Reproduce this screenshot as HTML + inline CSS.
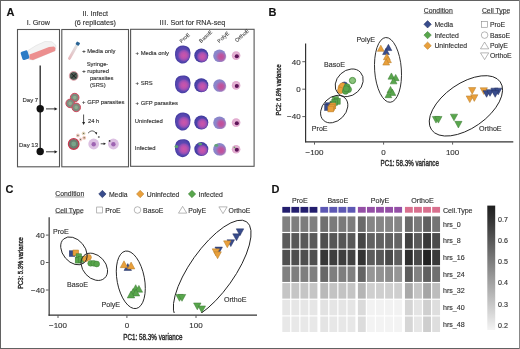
<!DOCTYPE html>
<html><head><meta charset="utf-8"><style>
html,body{margin:0;padding:0;background:#fff;}
body{width:520px;height:349px;overflow:hidden;font-family:"Liberation Sans", sans-serif;}
svg{display:block;font-family:"Liberation Sans", sans-serif;will-change:transform;}
text{stroke:#333;stroke-width:0.14px;}
</style></head><body>
<svg width="520" height="349" viewBox="0 0 520 349"><rect x="0" y="0" width="520" height="349" fill="#fff"/><line x1="0.5" y1="0" x2="0.5" y2="349" stroke="#626262" stroke-width="1"/><line x1="0" y1="0.5" x2="520" y2="0.5" stroke="#626262" stroke-width="1"/><line x1="0" y1="348.5" x2="520" y2="348.5" stroke="#626262" stroke-width="1"/><line x1="519.5" y1="0" x2="519.5" y2="349" stroke="#888" stroke-width="1"/><text x="6.5" y="16" font-size="11" fill="#111" text-anchor="start" font-weight="bold" >A</text><text x="268.5" y="16" font-size="11" fill="#111" text-anchor="start" font-weight="bold" >B</text><text x="5.5" y="193" font-size="11" fill="#111" text-anchor="start" font-weight="bold" >C</text><text x="271.5" y="193" font-size="11" fill="#111" text-anchor="start" font-weight="bold" >D</text><text x="38.3" y="25" font-size="7.2" fill="#333" text-anchor="middle" font-weight="normal" >I. Grow</text><text x="95.2" y="15.6" font-size="7.2" fill="#333" text-anchor="middle" font-weight="normal" >II. Infect</text><text x="95.2" y="24.6" font-size="7.2" fill="#333" text-anchor="middle" font-weight="normal" >(6 replicates)</text><text x="159.5" y="24.8" font-size="7.2" fill="#333" text-anchor="start" font-weight="normal" ><tspan letter-spacing="0.35">III</tspan>. Sort for RNA-seq</text><rect x="17.5" y="29.5" width="42" height="137.3" fill="none" stroke="#555" stroke-width="1.1"/><rect x="61.8" y="29.5" width="66.7" height="137.3" fill="none" stroke="#555" stroke-width="1.1"/><rect x="130.6" y="29.3" width="123.5" height="137" fill="none" stroke="#555" stroke-width="1.1"/><polygon points="28,50.5 36,45.5 45,41.5 52,41.8 56,45.5 55.5,50.5 33,60 28,59" fill="#f3f3f3" stroke="#ddd" stroke-width="0.6"/><polygon points="29.5,54.5 40,50.5 49,47 54,46.5 55.5,48 55,51 33,60 29.5,59.2" fill="#ec8f8f"/><g transform="translate(25 55.2) rotate(-18)"><rect x="-3.6" y="-4.3" width="7.2" height="8.6" rx="1.6" fill="#2c7cc6"/></g><line x1="40.2" y1="65.5" x2="40.2" y2="151.5" stroke="#333" stroke-width="1.4"/><circle cx="40.2" cy="108.7" r="3.7" fill="#111"/><circle cx="40.2" cy="151.5" r="3.7" fill="#111"/><line x1="46" y1="108.9" x2="55.5" y2="108.9" stroke="#222" stroke-width="0.9"/><polygon points="57.5,108.9 54.5,107.30000000000001 54.5,110.5" fill="#222"/><line x1="46" y1="151.8" x2="55.5" y2="151.8" stroke="#222" stroke-width="0.9"/><polygon points="57.5,151.8 54.5,150.20000000000002 54.5,153.4" fill="#222"/><text x="22.5" y="101.8" font-size="6" fill="#333" text-anchor="start" font-weight="normal" >Day 7</text><text x="19" y="146.8" font-size="6" fill="#333" text-anchor="start" font-weight="normal" >Day 13</text><defs><linearGradient id="tubeg" x1="0" y1="0" x2="0" y2="1"><stop offset="0" stop-color="#dfe4e4"/><stop offset="1" stop-color="#e8b8bc"/></linearGradient><linearGradient id="cbar" x1="0" y1="0" x2="0" y2="1"><stop offset="0" stop-color="#1e1e1e"/><stop offset="0.1" stop-color="#303030"/><stop offset="0.5" stop-color="#888"/><stop offset="1" stop-color="#f4f4f4"/></linearGradient></defs><g transform="translate(73.7 50.9) rotate(29.5)"><rect x="-1.45" y="-7" width="2.9" height="17" rx="1.4" fill="url(#tubeg)"/><rect x="-1.85" y="-10" width="3.7" height="3.3" rx="0.7" fill="#2a6494"/></g><text x="82.3" y="53.3" font-size="5.8" fill="#333" text-anchor="start" font-weight="normal" >+ Media only</text><circle cx="73.7" cy="75.9" r="4.4" fill="#4d5a52" stroke="#e6a3ab" stroke-width="0.9"/><path d="M71.2 73.4 L76.2 78.4 M76.2 73.4 L71.2 78.4" stroke="#111" stroke-width="0.8"/><text x="97.5" y="65.7" font-size="5.8" fill="#333" text-anchor="middle" font-weight="normal" >Syringe-</text><text x="82.3" y="73.3" font-size="5.8" fill="#333" text-anchor="start" font-weight="normal" >+ ruptured</text><text x="89.9" y="80.3" font-size="5.8" fill="#333" text-anchor="start" font-weight="normal" >parasites</text><text x="89.9" y="87.3" font-size="5.8" fill="#333" text-anchor="start" font-weight="normal" >(SRS)</text><circle cx="74.7" cy="97.6" r="4.3" fill="#7e8b7e" stroke="#d4475e" stroke-width="1"/><circle cx="74.7" cy="97.6" r="1.8" fill="#8fae8f"/><circle cx="70.2" cy="103.4" r="4.3" fill="#7e8b7e" stroke="#d4475e" stroke-width="1"/><circle cx="70.2" cy="103.4" r="1.8" fill="#8fae8f"/><circle cx="76.2" cy="107.4" r="4.3" fill="#7e8b7e" stroke="#d4475e" stroke-width="1"/><circle cx="76.2" cy="107.4" r="1.8" fill="#8fae8f"/><text x="82.1" y="104.2" font-size="5.85" fill="#333" text-anchor="start" font-weight="normal" >+ GFP parasites</text><line x1="83.6" y1="114.5" x2="83.6" y2="122.5" stroke="#222" stroke-width="0.8"/><polygon points="83.6,125 82.1,122 85.1,122" fill="#222"/><text x="88" y="122.5" font-size="5.8" fill="#333" text-anchor="start" font-weight="normal" >24 h</text><circle cx="73.7" cy="144" r="5.3" fill="#6c7d70" stroke="#c8384f" stroke-width="1.2"/><circle cx="73.7" cy="144" r="2.4" fill="#79a58a"/><circle cx="77.9" cy="135.5" r="1.9" fill="#f0c8c0"/><circle cx="77.9" cy="135.5" r="0.7" fill="#6a7a5a"/><circle cx="83.6" cy="133.4" r="1.9" fill="#e8d8c0"/><circle cx="83.6" cy="133.4" r="0.7" fill="#6a7a5a"/><circle cx="84.2" cy="137.8" r="1.9" fill="#f0c0b0"/><circle cx="84.2" cy="137.8" r="0.7" fill="#6a7a5a"/><circle cx="80.5" cy="139.5" r="1.9" fill="#f3d0d0"/><circle cx="80.5" cy="139.5" r="0.7" fill="#6a7a5a"/><path d="M88 133.2 Q92 128.5 96 133" fill="none" stroke="#222" stroke-width="0.7"/><polygon points="96.7,134.8 94.8,132.6 97.2,132.2" fill="#222"/><circle cx="98.8" cy="137" r="1" fill="#777"/><circle cx="93.7" cy="144" r="5.4" fill="#dcc0e2"/><circle cx="93.7" cy="144.3" r="2.2" fill="#9e64b2"/><circle cx="113.4" cy="144" r="5.4" fill="#dcc0e2"/><circle cx="113.4" cy="144.3" r="2.2" fill="#9e64b2"/><line x1="100.7" y1="143.8" x2="104.3" y2="143.8" stroke="#222" stroke-width="0.8"/><polygon points="106,143.8 103.6,142.5 103.6,145.1" fill="#222"/><circle cx="109.6" cy="140.9" r="0.9" fill="#333"/><text x="135.6" y="55" font-size="5.85" fill="#333" text-anchor="start" font-weight="normal" >+ Media only</text><text x="135.6" y="85" font-size="5.85" fill="#333" text-anchor="start" font-weight="normal" >+ SRS</text><text x="135.6" y="104.6" font-size="5.85" fill="#333" text-anchor="start" font-weight="normal" >+ GFP parasites</text><text x="134.8" y="122.6" font-size="5.85" fill="#333" text-anchor="start" font-weight="normal" >Uninfected</text><text x="134.8" y="150" font-size="5.85" fill="#333" text-anchor="start" font-weight="normal" >Infected</text><text transform="translate(181.6 43.2) rotate(-42)" font-size="5.3" fill="#3a3a3a" text-anchor="start" font-weight="normal" style="stroke-width:0.06px">ProE</text><text transform="translate(201 43.2) rotate(-42)" font-size="5.3" fill="#3a3a3a" text-anchor="start" font-weight="normal" style="stroke-width:0.06px">BasoE</text><text transform="translate(219.3 43.2) rotate(-42)" font-size="5.3" fill="#3a3a3a" text-anchor="start" font-weight="normal" style="stroke-width:0.06px">PolyE</text><text transform="translate(237 42.6) rotate(-42)" font-size="5.3" fill="#3a3a3a" text-anchor="start" font-weight="normal" style="stroke-width:0.06px">OrthoE</text><defs><radialGradient id="gnuc" cx="0.5" cy="0.5" r="0.5"><stop offset="0" stop-color="#cc56a8"/><stop offset="0.45" stop-color="#b852b0"/><stop offset="0.75" stop-color="#9850b6" stop-opacity="0.85"/><stop offset="1" stop-color="#7048b0" stop-opacity="0"/></radialGradient><radialGradient id="gnuc2" cx="0.5" cy="0.5" r="0.5"><stop offset="0" stop-color="#c44e98"/><stop offset="0.45" stop-color="#bc58a2"/><stop offset="0.8" stop-color="#a86cb4" stop-opacity="0.6"/><stop offset="1" stop-color="#9a80c4" stop-opacity="0"/></radialGradient><radialGradient id="gout" cx="0.5" cy="0.5" r="0.5"><stop offset="0" stop-color="#6a4cb4"/><stop offset="0.8" stop-color="#5646b0"/><stop offset="1" stop-color="#443ca0"/></radialGradient><radialGradient id="goutb" cx="0.5" cy="0.5" r="0.5"><stop offset="0" stop-color="#5a48b0"/><stop offset="0.8" stop-color="#4a42a8"/><stop offset="1" stop-color="#3a3698"/></radialGradient><radialGradient id="gortho" cx="0.5" cy="0.5" r="0.5"><stop offset="0" stop-color="#ecc0dc"/><stop offset="1" stop-color="#dfa6cc"/></radialGradient></defs><path d="M175.15 51.70 Q175.70 48.20 178.30 46.75 Q180.90 45.30 184.75 45.70 Q188.60 46.10 189.85 49.55 Q191.10 53.00 190.10 56.75 Q189.10 60.50 186.30 62.40 Q183.50 64.30 180.10 63.00 Q176.70 61.70 175.65 58.45 Q174.60 55.20 175.15 51.70 Z" fill="url(#gout)"/><circle cx="183.9" cy="55.4" r="6.6" fill="url(#gnuc)"/><circle cx="201.3" cy="55.5" r="7.0" fill="url(#goutb)"/><circle cx="202.4" cy="56.7" r="6.0" fill="url(#gnuc)"/><circle cx="219.5" cy="55.7" r="6.3" fill="#8a86ca"/><circle cx="221.1" cy="56.800000000000004" r="5.7" fill="url(#gnuc2)"/><circle cx="236.1" cy="55.6" r="4.3" fill="url(#gortho)"/><circle cx="236.79999999999998" cy="56.2" r="2.064" fill="#5e1458"/><path d="M175.15 81.50 Q175.70 78.00 178.30 76.55 Q180.90 75.10 184.75 75.50 Q188.60 75.90 189.85 79.35 Q191.10 82.80 190.10 86.55 Q189.10 90.30 186.30 92.20 Q183.50 94.10 180.10 92.80 Q176.70 91.50 175.65 88.25 Q174.60 85.00 175.15 81.50 Z" fill="url(#gout)"/><circle cx="183.9" cy="85.2" r="6.6" fill="url(#gnuc)"/><circle cx="201.3" cy="85.30000000000001" r="7.0" fill="url(#goutb)"/><circle cx="202.4" cy="86.50000000000001" r="6.0" fill="url(#gnuc)"/><circle cx="219.5" cy="85.5" r="6.3" fill="#8a86ca"/><circle cx="221.1" cy="86.6" r="5.7" fill="url(#gnuc2)"/><circle cx="236.1" cy="85.4" r="4.3" fill="url(#gortho)"/><circle cx="236.79999999999998" cy="86.0" r="2.064" fill="#5e1458"/><path d="M175.15 118.70 Q175.70 115.20 178.30 113.75 Q180.90 112.30 184.75 112.70 Q188.60 113.10 189.85 116.55 Q191.10 120.00 190.10 123.75 Q189.10 127.50 186.30 129.40 Q183.50 131.30 180.10 130.00 Q176.70 128.70 175.65 125.45 Q174.60 122.20 175.15 118.70 Z" fill="url(#gout)"/><circle cx="183.9" cy="122.39999999999999" r="6.6" fill="url(#gnuc)"/><circle cx="201.3" cy="122.5" r="7.0" fill="url(#goutb)"/><circle cx="202.4" cy="123.7" r="6.0" fill="url(#gnuc)"/><circle cx="219.5" cy="122.69999999999999" r="6.3" fill="#8a86ca"/><circle cx="221.1" cy="123.79999999999998" r="5.7" fill="url(#gnuc2)"/><circle cx="236.1" cy="122.6" r="4.3" fill="url(#gortho)"/><circle cx="236.79999999999998" cy="123.19999999999999" r="2.064" fill="#5e1458"/><path d="M175.15 145.30 Q175.70 141.80 178.30 140.35 Q180.90 138.90 184.75 139.30 Q188.60 139.70 189.85 143.15 Q191.10 146.60 190.10 150.35 Q189.10 154.10 186.30 156.00 Q183.50 157.90 180.10 156.60 Q176.70 155.30 175.65 152.05 Q174.60 148.80 175.15 145.30 Z" fill="url(#gout)"/><circle cx="183.9" cy="149.0" r="6.6" fill="url(#gnuc)"/><ellipse cx="176.4" cy="146.6" rx="1.9" ry="1.6" fill="#5aa86a" opacity="0.9"/><circle cx="201.3" cy="149.1" r="7.0" fill="url(#goutb)"/><circle cx="202.4" cy="150.29999999999998" r="6.0" fill="url(#gnuc)"/><ellipse cx="200.10000000000002" cy="144.1" rx="2.0" ry="1.3" fill="#5aa86a" opacity="0.9"/><circle cx="219.5" cy="149.29999999999998" r="6.3" fill="#8a86ca"/><circle cx="221.1" cy="150.39999999999998" r="5.7" fill="url(#gnuc2)"/><ellipse cx="216.3" cy="145.39999999999998" rx="2.0" ry="1.3" fill="#5aa86a" opacity="0.85"/><circle cx="236.1" cy="149.2" r="4.3" fill="url(#gortho)"/><circle cx="236.79999999999998" cy="149.79999999999998" r="2.064" fill="#5e1458"/><circle cx="234.5" cy="147.39999999999998" r="0.9" fill="#6ba06a"/><line x1="305.6" y1="43.4" x2="305.6" y2="142.2" stroke="#333" stroke-width="1.2"/><line x1="305" y1="141.9" x2="513.3" y2="141.9" stroke="#333" stroke-width="1.2"/><line x1="302.3" y1="61.7" x2="305" y2="61.7" stroke="#333" stroke-width="0.8"/><text x="300.7" y="64.5" font-size="8.0" fill="#333" text-anchor="end" font-weight="normal" >40</text><line x1="302.3" y1="89.2" x2="305" y2="89.2" stroke="#333" stroke-width="0.8"/><text x="300.7" y="92.0" font-size="8.0" fill="#333" text-anchor="end" font-weight="normal" >0</text><line x1="302.3" y1="116.6" x2="305" y2="116.6" stroke="#333" stroke-width="0.8"/><text x="300.7" y="119.39999999999999" font-size="8.0" fill="#333" text-anchor="end" font-weight="normal" >−40</text><line x1="314.5" y1="142.3" x2="314.5" y2="144.6" stroke="#333" stroke-width="0.8"/><text x="314.5" y="154.7" font-size="8.0" fill="#333" text-anchor="middle" font-weight="normal" >−100</text><line x1="383.6" y1="142.3" x2="383.6" y2="144.6" stroke="#333" stroke-width="0.8"/><text x="383.6" y="154.7" font-size="8.0" fill="#333" text-anchor="middle" font-weight="normal" >0</text><line x1="452.6" y1="142.3" x2="452.6" y2="144.6" stroke="#333" stroke-width="0.8"/><text x="452.6" y="154.7" font-size="8.0" fill="#333" text-anchor="middle" font-weight="normal" >100</text><text transform="translate(409.75 166.4) scale(0.741 1)" font-size="8.4" fill="#2a2a2a" text-anchor="middle" font-weight="normal" style="stroke-width:0.4px;stroke:#2a2a2a">PC1: 58.3% variance</text><text transform="translate(281.3 89.9) rotate(-90) scale(0.77 1)" font-size="7.5" fill="#2a2a2a" text-anchor="middle" font-weight="normal" style="stroke-width:0.4px;stroke:#2a2a2a">PC2: 6.8% variance</text><rect x="332.6" y="96.6" width="5.8" height="5.8" fill="#58a64c" stroke="#3d7a34" stroke-width="0.5"/><rect x="334.40000000000003" y="98.39999999999999" width="5.8" height="5.8" fill="#58a64c" stroke="#3d7a34" stroke-width="0.5"/><rect x="331.8" y="99.5" width="5.8" height="5.8" fill="#58a64c" stroke="#3d7a34" stroke-width="0.5"/><rect x="330.0" y="101.1" width="5.8" height="5.8" fill="#58a64c" stroke="#3d7a34" stroke-width="0.5"/><rect x="325.5" y="102.8" width="5.8" height="5.8" fill="#384c8c" stroke="#232f5e" stroke-width="0.5"/><rect x="324.70000000000005" y="104.6" width="5.8" height="5.8" fill="#384c8c" stroke="#232f5e" stroke-width="0.5"/><rect x="330.0" y="103.0" width="5.8" height="5.8" fill="#e9a03c" stroke="#b57a26" stroke-width="0.5"/><rect x="328.90000000000003" y="104.69999999999999" width="5.8" height="5.8" fill="#e9a03c" stroke="#b57a26" stroke-width="0.5"/><rect x="327.90000000000003" y="106.1" width="5.8" height="5.8" fill="#e9a03c" stroke="#b57a26" stroke-width="0.5"/><circle cx="352.5" cy="80.5" r="3.1" fill="#8cc47e" stroke="#4f9444" stroke-width="1"/><circle cx="344.4" cy="85" r="3.1" fill="#384c8c" stroke="#232f5e" stroke-width="0.5"/><circle cx="341.2" cy="87.5" r="3.1" fill="#e9a03c" stroke="#b57a26" stroke-width="0.5"/><circle cx="342.6" cy="85.8" r="3.1" fill="#e9a03c" stroke="#b57a26" stroke-width="0.5"/><circle cx="340.6" cy="90.4" r="3.1" fill="#e9a03c" stroke="#b57a26" stroke-width="0.5"/><circle cx="347" cy="86.8" r="3.1" fill="#58a64c" stroke="#3d7a34" stroke-width="0.5"/><circle cx="348.5" cy="89.5" r="3.1" fill="#58a64c" stroke="#3d7a34" stroke-width="0.5"/><circle cx="345.5" cy="91.2" r="3.1" fill="#58a64c" stroke="#3d7a34" stroke-width="0.5"/><circle cx="346.3" cy="88.8" r="3.1" fill="#58a64c" stroke="#3d7a34" stroke-width="0.5"/><polygon points="380.8,45.135000000000005 384.21000000000004,51.37375 377.39,51.37375" fill="#e9a03c" stroke="#b57a26" stroke-width="0.5"/><polygon points="388.4,44.335 391.81,50.57375 384.98999999999995,50.57375" fill="#384c8c" stroke="#232f5e" stroke-width="0.5"/><polygon points="386,48.335 389.41,54.57375 382.59,54.57375" fill="#384c8c" stroke="#232f5e" stroke-width="0.5"/><polygon points="386.8,53.535000000000004 390.21000000000004,59.77375 383.39,59.77375" fill="#e9a03c" stroke="#b57a26" stroke-width="0.5"/><polygon points="388,56.435 391.41,62.67375 384.59,62.67375" fill="#e9a03c" stroke="#b57a26" stroke-width="0.5"/><polygon points="386.2,58.835 389.61,65.07375 382.78999999999996,65.07375" fill="#e9a03c" stroke="#b57a26" stroke-width="0.5"/><polygon points="391.4,72.935 394.81,79.17375 387.98999999999995,79.17375" fill="#58a64c" stroke="#3d7a34" stroke-width="0.5"/><polygon points="395.7,74.435 399.11,80.67375 392.28999999999996,80.67375" fill="#58a64c" stroke="#3d7a34" stroke-width="0.5"/><polygon points="393.6,77.635 397.01000000000005,83.87375 390.19,83.87375" fill="#58a64c" stroke="#3d7a34" stroke-width="0.5"/><polygon points="390.5,86.435 393.91,92.67375 387.09,92.67375" fill="#58a64c" stroke="#3d7a34" stroke-width="0.5"/><polygon points="392.4,89.235 395.81,95.47375 388.98999999999995,95.47375" fill="#58a64c" stroke="#3d7a34" stroke-width="0.5"/><polygon points="388.4,91.435 391.81,97.67375 384.98999999999995,97.67375" fill="#58a64c" stroke="#3d7a34" stroke-width="0.5"/><polygon points="472.2,94.19500000000001 475.83,87.55375000000001 468.57,87.55375000000001" fill="#e9a03c" stroke="#b57a26" stroke-width="0.5"/><polygon points="469.8,102.595 473.43,95.95375 466.17,95.95375" fill="#e9a03c" stroke="#b57a26" stroke-width="0.5"/><polygon points="474.3,101.395 477.93,94.75375 470.67,94.75375" fill="#e9a03c" stroke="#b57a26" stroke-width="0.5"/><polygon points="483.8,94.395 487.43,87.75375 480.17,87.75375" fill="#e9a03c" stroke="#b57a26" stroke-width="0.5"/><polygon points="486.6,97.295 490.23,90.65375 482.97,90.65375" fill="#384c8c" stroke="#232f5e" stroke-width="0.5"/><polygon points="490,96.295 493.63,89.65375 486.37,89.65375" fill="#384c8c" stroke="#232f5e" stroke-width="0.5"/><polygon points="494.5,94.795 498.13,88.15375 490.87,88.15375" fill="#384c8c" stroke="#232f5e" stroke-width="0.5"/><polygon points="498.2,94.795 501.83,88.15375 494.57,88.15375" fill="#384c8c" stroke="#232f5e" stroke-width="0.5"/><polygon points="495.2,97.295 498.83,90.65375 491.57,90.65375" fill="#384c8c" stroke="#232f5e" stroke-width="0.5"/><polygon points="436,123.095 439.63,116.45375 432.37,116.45375" fill="#58a64c" stroke="#3d7a34" stroke-width="0.5"/><polygon points="438.4,123.095 442.03,116.45375 434.77,116.45375" fill="#58a64c" stroke="#3d7a34" stroke-width="0.5"/><polygon points="454,120.795 457.63,114.15375 450.37,114.15375" fill="#58a64c" stroke="#3d7a34" stroke-width="0.5"/><polygon points="458.4,127.995 462.03,121.35375 454.77,121.35375" fill="#58a64c" stroke="#3d7a34" stroke-width="0.5"/><ellipse cx="0" cy="0" rx="15.5" ry="11.6" transform="translate(334.2 109.1) rotate(-45.8)" fill="none" stroke="#222" stroke-width="0.9"/><ellipse cx="0" cy="0" rx="15.4" ry="12.3" transform="translate(349.2 82.8) rotate(-43.2)" fill="none" stroke="#222" stroke-width="0.9"/><ellipse cx="0" cy="0" rx="32.45" ry="13.37" transform="translate(388 69.9) rotate(-94)" fill="none" stroke="#222" stroke-width="0.9"/><ellipse cx="0" cy="0" rx="41.9" ry="22.4" transform="translate(465.9 105.85) rotate(-34.9)" fill="none" stroke="#222" stroke-width="0.9"/><text x="311.8" y="130.9" font-size="7.1" fill="#333" text-anchor="start" font-weight="normal" >ProE</text><text x="324.1" y="66.7" font-size="7.1" fill="#333" text-anchor="start" font-weight="normal" >BasoE</text><text x="356.4" y="41.8" font-size="7.1" fill="#333" text-anchor="start" font-weight="normal" >PolyE</text><text x="479.1" y="131.3" font-size="7.1" fill="#333" text-anchor="start" font-weight="normal" >OrthoE</text><text x="423.8" y="13" font-size="6.85" fill="#333" text-anchor="start" font-weight="normal" >Condition</text><line x1="423.8" y1="13.55" x2="453.1" y2="13.55" stroke="#444" stroke-width="0.55"/><text x="481.9" y="13" font-size="6.85" fill="#333" text-anchor="start" font-weight="normal" >Cell Type</text><line x1="481.9" y1="13.55" x2="509.4" y2="13.55" stroke="#444" stroke-width="0.55"/><polygon points="427.6,20.6 431.3,24.3 427.6,28.0 423.90000000000003,24.3" fill="#384c8c" stroke="#232f5e" stroke-width="0.5"/><text x="434.4" y="26.7" font-size="6.85" fill="#333" text-anchor="start" font-weight="normal" >Media</text><polygon points="427.6,31.400000000000002 431.3,35.1 427.6,38.800000000000004 423.90000000000003,35.1" fill="#58a64c" stroke="#3d7a34" stroke-width="0.5"/><text x="434.4" y="37.5" font-size="6.85" fill="#333" text-anchor="start" font-weight="normal" >Infected</text><polygon points="427.6,42.0 431.3,45.7 427.6,49.400000000000006 423.90000000000003,45.7" fill="#e9a03c" stroke="#b57a26" stroke-width="0.5"/><text x="434.4" y="48.1" font-size="6.85" fill="#333" text-anchor="start" font-weight="normal" >Uninfected</text><rect x="481.63" y="21.330000000000002" width="5.9399999999999995" height="5.9399999999999995" fill="none" stroke="#888" stroke-width="0.6"/><text x="489.9" y="26.7" font-size="6.85" fill="#333" text-anchor="start" font-weight="normal" >ProE</text><circle cx="484.6" cy="35.1" r="3.3" fill="none" stroke="#888" stroke-width="0.6"/><text x="489.9" y="37.5" font-size="6.85" fill="#333" text-anchor="start" font-weight="normal" >BasoE</text><polygon points="484.6,42.07 488.725,48.835 480.475,48.835" fill="none" stroke="#888" stroke-width="0.6"/><text x="489.9" y="48.1" font-size="6.85" fill="#333" text-anchor="start" font-weight="normal" >PolyE</text><polygon points="484.6,59.63 488.725,52.865 480.475,52.865" fill="none" stroke="#888" stroke-width="0.6"/><text x="489.9" y="58.4" font-size="6.85" fill="#333" text-anchor="start" font-weight="normal" >OrthoE</text><defs><clipPath id="clipC"><rect x="50" y="210" width="220" height="102.9"/></clipPath></defs><line x1="49.15" y1="217.3" x2="49.15" y2="315.8" stroke="#333" stroke-width="1.2"/><line x1="48.55" y1="315.2" x2="257" y2="315.2" stroke="#333" stroke-width="1.2"/><line x1="45.9" y1="235.1" x2="48.6" y2="235.1" stroke="#333" stroke-width="0.8"/><text x="44.7" y="237.9" font-size="8.0" fill="#333" text-anchor="end" font-weight="normal" >40</text><line x1="45.9" y1="262.5" x2="48.6" y2="262.5" stroke="#333" stroke-width="0.8"/><text x="44.7" y="265.3" font-size="8.0" fill="#333" text-anchor="end" font-weight="normal" >0</text><line x1="45.9" y1="290" x2="48.6" y2="290" stroke="#333" stroke-width="0.8"/><text x="44.7" y="292.8" font-size="8.0" fill="#333" text-anchor="end" font-weight="normal" >−40</text><line x1="58" y1="315.6" x2="58" y2="318" stroke="#333" stroke-width="0.8"/><text x="58" y="328.0" font-size="8.0" fill="#333" text-anchor="middle" font-weight="normal" >−100</text><line x1="126.9" y1="315.6" x2="126.9" y2="318" stroke="#333" stroke-width="0.8"/><text x="126.9" y="328.0" font-size="8.0" fill="#333" text-anchor="middle" font-weight="normal" >0</text><line x1="196" y1="315.6" x2="196" y2="318" stroke="#333" stroke-width="0.8"/><text x="196" y="328.0" font-size="8.0" fill="#333" text-anchor="middle" font-weight="normal" >100</text><text transform="translate(152.9 340.2) scale(0.752 1)" font-size="8.4" fill="#2a2a2a" text-anchor="middle" font-weight="normal" style="stroke-width:0.4px;stroke:#2a2a2a">PC1: 58.3% variance</text><text transform="translate(23.2 263) rotate(-90) scale(0.78 1)" font-size="7.5" fill="#2a2a2a" text-anchor="middle" font-weight="normal" style="stroke-width:0.4px;stroke:#2a2a2a">PC3: 5.3% variance</text><text x="55.3" y="196.4" font-size="6.85" fill="#333" text-anchor="start" font-weight="normal" >Condition</text><line x1="55.3" y1="196.95000000000002" x2="84.19999999999999" y2="196.95000000000002" stroke="#444" stroke-width="0.55"/><text x="55.3" y="212.5" font-size="6.85" fill="#333" text-anchor="start" font-weight="normal" >Cell Type</text><line x1="55.3" y1="213.05" x2="82.6" y2="213.05" stroke="#444" stroke-width="0.55"/><polygon points="102.4,190.3 106.10000000000001,194 102.4,197.7 98.7,194" fill="#384c8c" stroke="#232f5e" stroke-width="0.5"/><text x="108.9" y="196.5" font-size="6.85" fill="#333" text-anchor="start" font-weight="normal" >Media</text><polygon points="140.2,190.3 143.89999999999998,194 140.2,197.7 136.5,194" fill="#e9a03c" stroke="#b57a26" stroke-width="0.5"/><text x="146.7" y="196.5" font-size="6.85" fill="#333" text-anchor="start" font-weight="normal" >Uninfected</text><polygon points="192,190.3 195.7,194 192,197.7 188.3,194" fill="#58a64c" stroke="#3d7a34" stroke-width="0.5"/><text x="198.5" y="196.5" font-size="6.85" fill="#333" text-anchor="start" font-weight="normal" >Infected</text><rect x="96.73" y="207.03" width="5.9399999999999995" height="5.9399999999999995" fill="none" stroke="#888" stroke-width="0.6"/><text x="105.3" y="212.6" font-size="6.85" fill="#333" text-anchor="start" font-weight="normal" >ProE</text><circle cx="137.5" cy="210" r="3.3" fill="none" stroke="#888" stroke-width="0.6"/><text x="143.1" y="212.6" font-size="6.85" fill="#333" text-anchor="start" font-weight="normal" >BasoE</text><polygon points="182.6,206.37 186.725,213.135 178.475,213.135" fill="none" stroke="#888" stroke-width="0.6"/><text x="188.2" y="212.6" font-size="6.85" fill="#333" text-anchor="start" font-weight="normal" >PolyE</text><polygon points="223,213.63 227.125,206.865 218.875,206.865" fill="none" stroke="#888" stroke-width="0.6"/><text x="228.6" y="212.6" font-size="6.85" fill="#333" text-anchor="start" font-weight="normal" >OrthoE</text><rect x="69.3" y="250.79999999999998" width="5.6" height="5.6" fill="#384c8c" stroke="#232f5e" stroke-width="0.5"/><rect x="73.0" y="250.0" width="5.6" height="5.6" fill="#e9a03c" stroke="#b57a26" stroke-width="0.5"/><rect x="76.0" y="253.8" width="5.6" height="5.6" fill="#58a64c" stroke="#3d7a34" stroke-width="0.5"/><rect x="75.2" y="257.5" width="5.6" height="5.6" fill="#58a64c" stroke="#3d7a34" stroke-width="0.5"/><rect x="78.2" y="256.7" width="5.6" height="5.6" fill="#58a64c" stroke="#3d7a34" stroke-width="0.5"/><circle cx="85.5" cy="258.8" r="2.9" fill="#e9a03c" stroke="#b57a26" stroke-width="0.5"/><circle cx="88.5" cy="257.3" r="2.9" fill="#e9a03c" stroke="#b57a26" stroke-width="0.5"/><circle cx="90.7" cy="263.3" r="2.9" fill="#58a64c" stroke="#3d7a34" stroke-width="0.5"/><circle cx="93.7" cy="263.3" r="2.9" fill="#58a64c" stroke="#3d7a34" stroke-width="0.5"/><circle cx="96.7" cy="264" r="2.9" fill="#58a64c" stroke="#3d7a34" stroke-width="0.5"/><polygon points="127.8,263.59 131.54,270.4325 124.06,270.4325" fill="#384c8c" stroke="#232f5e" stroke-width="0.5"/><polygon points="124,260.78999999999996 127.74,267.6325 120.26,267.6325" fill="#e9a03c" stroke="#b57a26" stroke-width="0.5"/><polygon points="131.1,262.09 134.84,268.9325 127.36,268.9325" fill="#e9a03c" stroke="#b57a26" stroke-width="0.5"/><polygon points="135.7,284.69 139.44,291.5325 131.95999999999998,291.5325" fill="#58a64c" stroke="#3d7a34" stroke-width="0.5"/><polygon points="138.9,285.39 142.64000000000001,292.2325 135.16,292.2325" fill="#58a64c" stroke="#3d7a34" stroke-width="0.5"/><polygon points="133.1,288.59 136.84,295.4325 129.35999999999999,295.4325" fill="#58a64c" stroke="#3d7a34" stroke-width="0.5"/><polygon points="136,289.09 139.74,295.9325 132.26,295.9325" fill="#58a64c" stroke="#3d7a34" stroke-width="0.5"/><polygon points="131,291.09 134.74,297.9325 127.26,297.9325" fill="#58a64c" stroke="#3d7a34" stroke-width="0.5"/><polygon points="240,235.71 243.74,228.8675 236.26,228.8675" fill="#384c8c" stroke="#232f5e" stroke-width="0.5"/><polygon points="236.5,240.71 240.24,233.8675 232.76,233.8675" fill="#384c8c" stroke="#232f5e" stroke-width="0.5"/><polygon points="230.8,246.60999999999999 234.54000000000002,239.76749999999998 227.06,239.76749999999998" fill="#384c8c" stroke="#232f5e" stroke-width="0.5"/><polygon points="227.3,247.71 231.04000000000002,240.8675 223.56,240.8675" fill="#e9a03c" stroke="#b57a26" stroke-width="0.5"/><polygon points="218.7,253.91 222.44,247.0675 214.95999999999998,247.0675" fill="#384c8c" stroke="#232f5e" stroke-width="0.5"/><polygon points="215.9,255.71 219.64000000000001,248.8675 212.16,248.8675" fill="#e9a03c" stroke="#b57a26" stroke-width="0.5"/><polygon points="217.6,258.71000000000004 221.34,251.8675 213.85999999999999,251.8675" fill="#e9a03c" stroke="#b57a26" stroke-width="0.5"/><polygon points="179.5,301.31 183.24,294.4675 175.76,294.4675" fill="#58a64c" stroke="#3d7a34" stroke-width="0.5"/><polygon points="182,301.31 185.74,294.4675 178.26,294.4675" fill="#58a64c" stroke="#3d7a34" stroke-width="0.5"/><polygon points="197.3,309.81 201.04000000000002,302.9675 193.56,302.9675" fill="#58a64c" stroke="#3d7a34" stroke-width="0.5"/><polygon points="201.8,312.81 205.54000000000002,305.9675 198.06,305.9675" fill="#58a64c" stroke="#3d7a34" stroke-width="0.5"/><ellipse cx="0" cy="0" rx="15.7" ry="11.1" transform="translate(73.9 250.9) rotate(49.7)" fill="none" stroke="#222" stroke-width="0.9"/><ellipse cx="0" cy="0" rx="15.3" ry="11.3" transform="translate(94.3 266.8) rotate(47.7)" fill="none" stroke="#222" stroke-width="0.9"/><ellipse cx="0" cy="0" rx="29.2" ry="13.7" transform="translate(130.8 279.8) rotate(-100.7)" fill="none" stroke="#222" stroke-width="0.9"/><g clip-path="url(#clipC)"><ellipse cx="0" cy="0" rx="59.5" ry="22.1" transform="translate(212.2 270.3) rotate(-54.6)" fill="none" stroke="#222" stroke-width="0.9"/></g><text x="53.0" y="233.9" font-size="7.1" fill="#333" text-anchor="start" font-weight="normal" >ProE</text><text x="67.0" y="287.4" font-size="7.1" fill="#333" text-anchor="start" font-weight="normal" >BasoE</text><text x="101.5" y="306.7" font-size="7.1" fill="#333" text-anchor="start" font-weight="normal" >PolyE</text><text x="223.9" y="302.0" font-size="7.1" fill="#333" text-anchor="start" font-weight="normal" >OrthoE</text><text x="299.845" y="202.5" font-size="7.1" fill="#333" text-anchor="middle" font-weight="normal" >ProE</text><rect x="282.30" y="206.9" width="7.85" height="5.8" fill="#231e6e"/><rect x="282.30" y="216.4" width="7.85" height="15.5" fill="rgb(128,128,128)"/><rect x="282.30" y="233.08" width="7.85" height="15.5" fill="rgb(90,90,90)"/><rect x="282.30" y="249.76" width="7.85" height="15.5" fill="rgb(80,80,80)"/><rect x="282.30" y="266.44" width="7.85" height="15.5" fill="rgb(128,128,128)"/><rect x="282.30" y="283.12" width="7.85" height="15.5" fill="rgb(197,197,197)"/><rect x="282.30" y="299.8" width="7.85" height="15.5" fill="rgb(230,230,230)"/><rect x="282.30" y="316.48" width="7.85" height="15.5" fill="rgb(232,232,232)"/><rect x="291.38" y="206.9" width="7.85" height="5.8" fill="#231e6e"/><rect x="291.38" y="216.4" width="7.85" height="15.5" fill="rgb(125,125,125)"/><rect x="291.38" y="233.08" width="7.85" height="15.5" fill="rgb(88,88,88)"/><rect x="291.38" y="249.76" width="7.85" height="15.5" fill="rgb(78,78,78)"/><rect x="291.38" y="266.44" width="7.85" height="15.5" fill="rgb(126,126,126)"/><rect x="291.38" y="283.12" width="7.85" height="15.5" fill="rgb(197,197,197)"/><rect x="291.38" y="299.8" width="7.85" height="15.5" fill="rgb(230,230,230)"/><rect x="291.38" y="316.48" width="7.85" height="15.5" fill="rgb(232,232,232)"/><rect x="300.46" y="206.9" width="7.85" height="5.8" fill="#231e6e"/><rect x="300.46" y="216.4" width="7.85" height="15.5" fill="rgb(125,125,125)"/><rect x="300.46" y="233.08" width="7.85" height="15.5" fill="rgb(88,88,88)"/><rect x="300.46" y="249.76" width="7.85" height="15.5" fill="rgb(78,78,78)"/><rect x="300.46" y="266.44" width="7.85" height="15.5" fill="rgb(126,126,126)"/><rect x="300.46" y="283.12" width="7.85" height="15.5" fill="rgb(197,197,197)"/><rect x="300.46" y="299.8" width="7.85" height="15.5" fill="rgb(230,230,230)"/><rect x="300.46" y="316.48" width="7.85" height="15.5" fill="rgb(232,232,232)"/><rect x="309.54" y="206.9" width="7.85" height="5.8" fill="#231e6e"/><rect x="309.54" y="216.4" width="7.85" height="15.5" fill="rgb(128,128,128)"/><rect x="309.54" y="233.08" width="7.85" height="15.5" fill="rgb(90,90,90)"/><rect x="309.54" y="249.76" width="7.85" height="15.5" fill="rgb(80,80,80)"/><rect x="309.54" y="266.44" width="7.85" height="15.5" fill="rgb(128,128,128)"/><rect x="309.54" y="283.12" width="7.85" height="15.5" fill="rgb(197,197,197)"/><rect x="309.54" y="299.8" width="7.85" height="15.5" fill="rgb(230,230,230)"/><rect x="309.54" y="316.48" width="7.85" height="15.5" fill="rgb(232,232,232)"/><text x="337.845" y="202.5" font-size="7.1" fill="#333" text-anchor="middle" font-weight="normal" >BasoE</text><rect x="320.30" y="206.9" width="7.85" height="5.8" fill="#5d58b4"/><rect x="320.30" y="216.4" width="7.85" height="15.5" fill="rgb(112,112,112)"/><rect x="320.30" y="233.08" width="7.85" height="15.5" fill="rgb(80,80,80)"/><rect x="320.30" y="249.76" width="7.85" height="15.5" fill="rgb(55,55,55)"/><rect x="320.30" y="266.44" width="7.85" height="15.5" fill="rgb(104,104,104)"/><rect x="320.30" y="283.12" width="7.85" height="15.5" fill="rgb(185,185,185)"/><rect x="320.30" y="299.8" width="7.85" height="15.5" fill="rgb(226,226,226)"/><rect x="320.30" y="316.48" width="7.85" height="15.5" fill="rgb(228,228,228)"/><rect x="329.38" y="206.9" width="7.85" height="5.8" fill="#5d58b4"/><rect x="329.38" y="216.4" width="7.85" height="15.5" fill="rgb(122,122,122)"/><rect x="329.38" y="233.08" width="7.85" height="15.5" fill="rgb(86,86,86)"/><rect x="329.38" y="249.76" width="7.85" height="15.5" fill="rgb(62,62,62)"/><rect x="329.38" y="266.44" width="7.85" height="15.5" fill="rgb(126,126,126)"/><rect x="329.38" y="283.12" width="7.85" height="15.5" fill="rgb(195,195,195)"/><rect x="329.38" y="299.8" width="7.85" height="15.5" fill="rgb(229,229,229)"/><rect x="329.38" y="316.48" width="7.85" height="15.5" fill="rgb(231,231,231)"/><rect x="338.46" y="206.9" width="7.85" height="5.8" fill="#5d58b4"/><rect x="338.46" y="216.4" width="7.85" height="15.5" fill="rgb(122,122,122)"/><rect x="338.46" y="233.08" width="7.85" height="15.5" fill="rgb(86,86,86)"/><rect x="338.46" y="249.76" width="7.85" height="15.5" fill="rgb(62,62,62)"/><rect x="338.46" y="266.44" width="7.85" height="15.5" fill="rgb(126,126,126)"/><rect x="338.46" y="283.12" width="7.85" height="15.5" fill="rgb(195,195,195)"/><rect x="338.46" y="299.8" width="7.85" height="15.5" fill="rgb(229,229,229)"/><rect x="338.46" y="316.48" width="7.85" height="15.5" fill="rgb(231,231,231)"/><rect x="347.54" y="206.9" width="7.85" height="5.8" fill="#5d58b4"/><rect x="347.54" y="216.4" width="7.85" height="15.5" fill="rgb(125,125,125)"/><rect x="347.54" y="233.08" width="7.85" height="15.5" fill="rgb(88,88,88)"/><rect x="347.54" y="249.76" width="7.85" height="15.5" fill="rgb(66,66,66)"/><rect x="347.54" y="266.44" width="7.85" height="15.5" fill="rgb(128,128,128)"/><rect x="347.54" y="283.12" width="7.85" height="15.5" fill="rgb(197,197,197)"/><rect x="347.54" y="299.8" width="7.85" height="15.5" fill="rgb(229,229,229)"/><rect x="347.54" y="316.48" width="7.85" height="15.5" fill="rgb(231,231,231)"/><text x="379.98499999999996" y="202.5" font-size="7.1" fill="#333" text-anchor="middle" font-weight="normal" >PolyE</text><rect x="357.90" y="206.9" width="7.85" height="5.8" fill="#944fa6"/><rect x="357.90" y="216.4" width="7.85" height="15.5" fill="rgb(106,106,106)"/><rect x="357.90" y="233.08" width="7.85" height="15.5" fill="rgb(70,70,70)"/><rect x="357.90" y="249.76" width="7.85" height="15.5" fill="rgb(52,52,52)"/><rect x="357.90" y="266.44" width="7.85" height="15.5" fill="rgb(100,100,100)"/><rect x="357.90" y="283.12" width="7.85" height="15.5" fill="rgb(181,181,181)"/><rect x="357.90" y="299.8" width="7.85" height="15.5" fill="rgb(218,218,218)"/><rect x="357.90" y="316.48" width="7.85" height="15.5" fill="rgb(220,220,220)"/><rect x="366.98" y="206.9" width="7.85" height="5.8" fill="#944fa6"/><rect x="366.98" y="216.4" width="7.85" height="15.5" fill="rgb(133,133,133)"/><rect x="366.98" y="233.08" width="7.85" height="15.5" fill="rgb(98,98,98)"/><rect x="366.98" y="249.76" width="7.85" height="15.5" fill="rgb(92,92,92)"/><rect x="366.98" y="266.44" width="7.85" height="15.5" fill="rgb(150,150,150)"/><rect x="366.98" y="283.12" width="7.85" height="15.5" fill="rgb(207,207,207)"/><rect x="366.98" y="299.8" width="7.85" height="15.5" fill="rgb(242,242,242)"/><rect x="366.98" y="316.48" width="7.85" height="15.5" fill="rgb(243,243,243)"/><rect x="376.06" y="206.9" width="7.85" height="5.8" fill="#944fa6"/><rect x="376.06" y="216.4" width="7.85" height="15.5" fill="rgb(133,133,133)"/><rect x="376.06" y="233.08" width="7.85" height="15.5" fill="rgb(98,98,98)"/><rect x="376.06" y="249.76" width="7.85" height="15.5" fill="rgb(88,88,88)"/><rect x="376.06" y="266.44" width="7.85" height="15.5" fill="rgb(146,146,146)"/><rect x="376.06" y="283.12" width="7.85" height="15.5" fill="rgb(207,207,207)"/><rect x="376.06" y="299.8" width="7.85" height="15.5" fill="rgb(242,242,242)"/><rect x="376.06" y="316.48" width="7.85" height="15.5" fill="rgb(243,243,243)"/><rect x="385.14" y="206.9" width="7.85" height="5.8" fill="#944fa6"/><rect x="385.14" y="216.4" width="7.85" height="15.5" fill="rgb(133,133,133)"/><rect x="385.14" y="233.08" width="7.85" height="15.5" fill="rgb(96,96,96)"/><rect x="385.14" y="249.76" width="7.85" height="15.5" fill="rgb(74,74,74)"/><rect x="385.14" y="266.44" width="7.85" height="15.5" fill="rgb(140,140,140)"/><rect x="385.14" y="283.12" width="7.85" height="15.5" fill="rgb(207,207,207)"/><rect x="385.14" y="299.8" width="7.85" height="15.5" fill="rgb(242,242,242)"/><rect x="385.14" y="316.48" width="7.85" height="15.5" fill="rgb(243,243,243)"/><rect x="394.22" y="206.9" width="7.85" height="5.8" fill="#944fa6"/><rect x="394.22" y="216.4" width="7.85" height="15.5" fill="rgb(133,133,133)"/><rect x="394.22" y="233.08" width="7.85" height="15.5" fill="rgb(100,100,100)"/><rect x="394.22" y="249.76" width="7.85" height="15.5" fill="rgb(94,94,94)"/><rect x="394.22" y="266.44" width="7.85" height="15.5" fill="rgb(150,150,150)"/><rect x="394.22" y="283.12" width="7.85" height="15.5" fill="rgb(207,207,207)"/><rect x="394.22" y="299.8" width="7.85" height="15.5" fill="rgb(242,242,242)"/><rect x="394.22" y="316.48" width="7.85" height="15.5" fill="rgb(243,243,243)"/><text x="422.495" y="202.5" font-size="7.1" fill="#333" text-anchor="middle" font-weight="normal" >OrthoE</text><rect x="404.95" y="206.9" width="7.85" height="5.8" fill="#d9708e"/><rect x="404.95" y="216.4" width="7.85" height="15.5" fill="rgb(106,106,106)"/><rect x="404.95" y="233.08" width="7.85" height="15.5" fill="rgb(64,64,64)"/><rect x="404.95" y="249.76" width="7.85" height="15.5" fill="rgb(46,46,46)"/><rect x="404.95" y="266.44" width="7.85" height="15.5" fill="rgb(92,92,92)"/><rect x="404.95" y="283.12" width="7.85" height="15.5" fill="rgb(169,169,169)"/><rect x="404.95" y="299.8" width="7.85" height="15.5" fill="rgb(213,213,213)"/><rect x="404.95" y="316.48" width="7.85" height="15.5" fill="rgb(214,214,214)"/><rect x="414.03" y="206.9" width="7.85" height="5.8" fill="#d9708e"/><rect x="414.03" y="216.4" width="7.85" height="15.5" fill="rgb(122,122,122)"/><rect x="414.03" y="233.08" width="7.85" height="15.5" fill="rgb(90,90,90)"/><rect x="414.03" y="249.76" width="7.85" height="15.5" fill="rgb(74,74,74)"/><rect x="414.03" y="266.44" width="7.85" height="15.5" fill="rgb(130,130,130)"/><rect x="414.03" y="283.12" width="7.85" height="15.5" fill="rgb(197,197,197)"/><rect x="414.03" y="299.8" width="7.85" height="15.5" fill="rgb(228,228,228)"/><rect x="414.03" y="316.48" width="7.85" height="15.5" fill="rgb(230,230,230)"/><rect x="423.11" y="206.9" width="7.85" height="5.8" fill="#d9708e"/><rect x="423.11" y="216.4" width="7.85" height="15.5" fill="rgb(96,96,96)"/><rect x="423.11" y="233.08" width="7.85" height="15.5" fill="rgb(56,56,56)"/><rect x="423.11" y="249.76" width="7.85" height="15.5" fill="rgb(34,34,34)"/><rect x="423.11" y="266.44" width="7.85" height="15.5" fill="rgb(96,96,96)"/><rect x="423.11" y="283.12" width="7.85" height="15.5" fill="rgb(165,165,165)"/><rect x="423.11" y="299.8" width="7.85" height="15.5" fill="rgb(207,207,207)"/><rect x="423.11" y="316.48" width="7.85" height="15.5" fill="rgb(206,206,206)"/><rect x="432.19" y="206.9" width="7.85" height="5.8" fill="#d9708e"/><rect x="432.19" y="216.4" width="7.85" height="15.5" fill="rgb(117,117,117)"/><rect x="432.19" y="233.08" width="7.85" height="15.5" fill="rgb(76,76,76)"/><rect x="432.19" y="249.76" width="7.85" height="15.5" fill="rgb(58,58,58)"/><rect x="432.19" y="266.44" width="7.85" height="15.5" fill="rgb(112,112,112)"/><rect x="432.19" y="283.12" width="7.85" height="15.5" fill="rgb(189,189,189)"/><rect x="432.19" y="299.8" width="7.85" height="15.5" fill="rgb(222,222,222)"/><rect x="432.19" y="316.48" width="7.85" height="15.5" fill="rgb(222,222,222)"/><text x="443" y="212.5" font-size="7.1" fill="#333" text-anchor="start" font-weight="normal" >Cell.Type</text><text x="443" y="226.65" font-size="7.1" fill="#333" text-anchor="start" font-weight="normal" >hrs_0</text><text x="443" y="243.33" font-size="7.1" fill="#333" text-anchor="start" font-weight="normal" >hrs_8</text><text x="443" y="260.01" font-size="7.1" fill="#333" text-anchor="start" font-weight="normal" >hrs_16</text><text x="443" y="276.69" font-size="7.1" fill="#333" text-anchor="start" font-weight="normal" >hrs_24</text><text x="443" y="293.37" font-size="7.1" fill="#333" text-anchor="start" font-weight="normal" >hrs_32</text><text x="443" y="310.05" font-size="7.1" fill="#333" text-anchor="start" font-weight="normal" >hrs_40</text><text x="443" y="326.73" font-size="7.1" fill="#333" text-anchor="start" font-weight="normal" >hrs_48</text><rect x="487.3" y="205.6" width="7.9" height="124.4" fill="url(#cbar)"/><text x="498.1" y="222.1" font-size="7.1" fill="#333" text-anchor="start" font-weight="normal" >0.7</text><text x="498.1" y="243.2" font-size="7.1" fill="#333" text-anchor="start" font-weight="normal" >0.6</text><text x="498.1" y="264.3" font-size="7.1" fill="#333" text-anchor="start" font-weight="normal" >0.5</text><text x="498.1" y="285.4" font-size="7.1" fill="#333" text-anchor="start" font-weight="normal" >0.4</text><text x="498.1" y="306.5" font-size="7.1" fill="#333" text-anchor="start" font-weight="normal" >0.3</text><text x="498.1" y="327.6" font-size="7.1" fill="#333" text-anchor="start" font-weight="normal" >0.2</text></svg>
</body></html>
